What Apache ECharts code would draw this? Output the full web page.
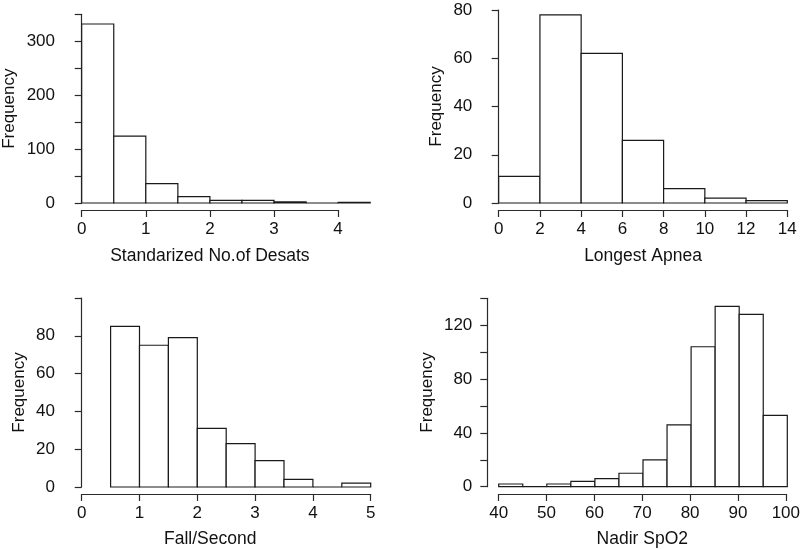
<!DOCTYPE html>
<html>
<head>
<meta charset="utf-8">
<script src="https://cdn.jsdelivr.net/npm/echarts@6/dist/echarts.min.js"></script>
<style>html,body{margin:0;padding:0;background:#fff}#c{width:803px;height:549px}</style>
</head>
<body>
<div id="c"></div>
<script>
// ---- data ----
const desatEdges = [0, 0.5, 1, 1.5, 2, 2.5, 3, 3.5, 4, 4.5];
const desatCounts = [332, 124, 36, 12, 5, 5, 2, 0, 1];
const desatYLabels = [0, 100, 200, 300];

const apneaEdges = [0, 2, 4, 6, 8, 10, 12, 14];
const apneaCounts = [11, 78, 62, 26, 6, 2, 1];
const apneaYLabels = [0, 20, 40, 60, 80];

const fallEdges = [0.5, 1, 1.5, 2, 2.5, 3, 3.5, 4, 4.5, 5];
const fallCounts = [85, 75, 79, 31, 23, 14, 4, 0, 2];
const fallYLabels = [0, 20, 40, 60, 80];

const spo2Edges = [40, 45, 50, 55, 60, 65, 70, 75, 80, 85, 90, 95, 100];
const spo2Counts = [2, 0, 2, 4, 6, 10, 20, 46, 104, 134, 128, 53];
const spo2YLabels = [0, 40, 80, 120];

const xTitles = ['Standarized No.of Desats', 'Longest Apnea', 'Fall/Second', 'Nadir SpO2'];
const yTitle = 'Frequency';

// ---- layout (pixels) ----
const panels = [
  {edges: desatEdges, counts: desatCounts, yLabels: desatYLabels, yMax: 350, yInt: 50,
   xMin: 0, xTickMax: 4, xDataMax: 4.5, xInt: 1,
   left: 81.7, top: 14.3, width: 288.5, height: 188.7, yOff: 11.7, axisBottom: 210,
   axisWidth: 256.4, yGap: 52, xGap: 37, xPad: 0},
  {edges: apneaEdges, counts: apneaCounts, yLabels: apneaYLabels, yMax: 80, yInt: 20,
   xMin: 0, xTickMax: 14, xDataMax: 14, xInt: 2,
   left: 498.7, top: 10, width: 288.6, height: 193, yOff: 11.4, axisBottom: 210,
   axisWidth: 288.6, yGap: 42, xGap: 37, xPad: 0},
  {edges: fallEdges, counts: fallCounts, yLabels: fallYLabels, yMax: 100, yInt: 20,
   xMin: 0, xTickMax: 5, xDataMax: 5, xInt: 1,
   left: 81.7, top: 298, width: 289, height: 189, yOff: 11.7, axisBottom: 494,
   axisWidth: 289, yGap: 42, xGap: 36, xPad: 32},
  {edges: spo2Edges, counts: spo2Counts, yLabels: spo2YLabels, yMax: 140, yInt: 20,
   xMin: 40, xTickMax: 100, xDataMax: 100, xInt: 10,
   left: 498.7, top: 298.3, width: 288.6, height: 188.4, yOff: 11.4, axisBottom: 494,
   axisWidth: 288.6, yGap: 51, xGap: 36, xPad: 0}
];

const FONT = 'Liberation Sans, Arial, Helvetica, sans-serif';
const AX = '#2a2a2a';
const grid = [], xAxis = [], yAxis = [], series = [];

panels.forEach((p, i) => {
  grid.push({left: p.left, top: p.top, width: p.width, height: p.height, containLabel: false});
  grid.push({left: p.left, top: p.axisBottom - 10, width: p.axisWidth, height: 10, containLabel: false});
  const gD = 2 * i, gA = 2 * i + 1;
  xAxis.push({type: 'value', gridIndex: gD, min: p.xMin, max: p.xDataMax, show: false});
  xAxis.push({type: 'value', gridIndex: gA, min: p.xMin, max: p.xTickMax, interval: p.xInt,
    position: 'bottom',
    axisLine: {show: true, lineStyle: {color: AX, width: 1.2}},
    axisTick: {show: true, inside: false, length: 7, lineStyle: {color: AX, width: 1.2}},
    axisLabel: {show: true, margin: 11, color: '#111', fontSize: 17, fontFamily: FONT},
    splitLine: {show: false},
    name: xTitles[i], nameLocation: 'middle', nameGap: p.xGap,
    nameTextStyle: {color: '#111', fontSize: 17.5, fontFamily: FONT, padding: [0, p.xPad, 0, 0]}
  });
  yAxis.push({type: 'value', gridIndex: gD, min: 0, max: p.yMax, interval: p.yInt,
    position: 'left', offset: p.yOff,
    axisLine: {show: true, lineStyle: {color: AX, width: 1.2}},
    axisTick: {show: true, inside: false, length: 7, lineStyle: {color: AX, width: 1.2}},
    axisLabel: {show: true, margin: 15, color: '#111', fontSize: 17, fontFamily: FONT,
      showMaxLabel: true, showMinLabel: true,
      formatter: v => (p.yLabels.indexOf(v) >= 0 ? String(v) : '')},
    splitLine: {show: false},
    name: yTitle, nameLocation: 'middle', nameGap: p.yGap,
    nameTextStyle: {color: '#111', fontSize: 17, fontFamily: FONT}
  });
  yAxis.push({type: 'value', gridIndex: gA, min: 0, max: 1, show: false});

  const data = p.counts.map((c, k) => [p.edges[k], p.edges[k + 1], c]);
  series.push({
    type: 'custom', xAxisIndex: 2 * i, yAxisIndex: 2 * i, data: data,
    clip: false, silent: true,
    renderItem: (params, api) => {
      const a = api.coord([api.value(0), 0]);
      const b = api.coord([api.value(1), api.value(2)]);
      return {type: 'rect',
        shape: {x: a[0], y: b[1], width: b[0] - a[0], height: a[1] - b[1]},
        style: {fill: '#fff', stroke: '#1a1a1a', lineWidth: 1.2}};
    }
  });
});

const chart = echarts.init(document.getElementById('c'), null, {renderer: 'canvas'});
chart.setOption({animation: false, backgroundColor: '#fff', grid, xAxis, yAxis, series});
</script>
</body>
</html>
